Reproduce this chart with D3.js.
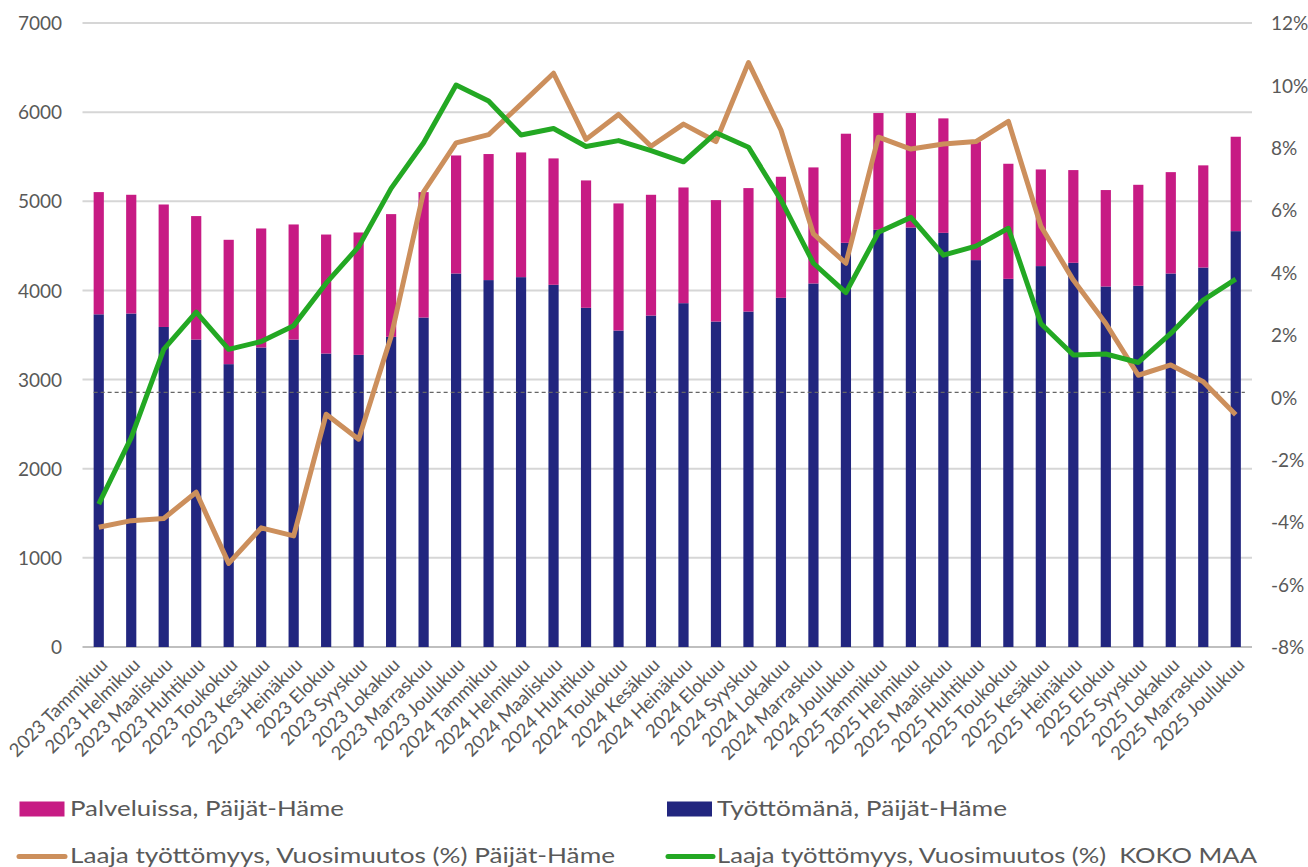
<!DOCTYPE html>
<html>
<head>
<meta charset="utf-8">
<script src="https://cdn.jsdelivr.net/npm/d3@7"></script>
<style>
  html, body { margin: 0; padding: 0; background: #fff; }
  svg { display: block; }
  text { font-family: Lato, "Open Sans", sans-serif; fill: #595959; }
</style>
</head>
<body>
<svg id="chart" width="1308" height="867"></svg>
<script>
const categories = [
  "2023 Tammikuu","2023 Helmikuu","2023 Maaliskuu","2023 Huhtikuu","2023 Toukokuu","2023 Kesäkuu",
  "2023 Heinäkuu","2023 Elokuu","2023 Syyskuu","2023 Lokakuu","2023 Marraskuu","2023 Joulukuu",
  "2024 Tammikuu","2024 Helmikuu","2024 Maaliskuu","2024 Huhtikuu","2024 Toukokuu","2024 Kesäkuu",
  "2024 Heinäkuu","2024 Elokuu","2024 Syyskuu","2024 Lokakuu","2024 Marraskuu","2024 Joulukuu",
  "2025 Tammikuu","2025 Helmikuu","2025 Maaliskuu","2025 Huhtikuu","2025 Toukokuu","2025 Kesäkuu",
  "2025 Heinäkuu","2025 Elokuu","2025 Syyskuu","2025 Lokakuu","2025 Marraskuu","2025 Joulukuu"
];
// Työttömänä, Päijät-Häme (bottom segment)
const tyottomana = [
  3732,3741,3590,3449,3173,3360,3449,3292,3277,3479,3696,4190,
  4116,4149,4063,3805,3550,3718,3857,3651,3763,3917,4078,4534,
  4680,4706,4646,4340,4130,4273,4310,4044,4052,4190,4257,4665
];
// Palveluissa, Päijät-Häme (top segment)
const palveluissa = [
  1371,1332,1374,1385,1395,1335,1291,1335,1373,1377,1407,1324,
  1414,1399,1418,1429,1426,1355,1298,1362,1385,1358,1302,1224,
  1310,1284,1284,1331,1291,1084,1040,1082,1133,1137,1146,1059
];
// Laaja työttömyys, Vuosimuutos (%) Päijät-Häme
const muutosPH = [
  -4.16,-3.95,-3.88,-3.04,-5.32,-4.18,-4.44,-0.54,-1.34,1.95,6.59,8.16,
  8.42,9.40,10.39,8.27,9.07,8.05,8.76,8.20,10.73,8.57,5.24,4.30,
  8.34,7.96,8.12,8.20,8.85,5.49,3.76,2.37,0.71,1.04,0.50,-0.56
];
// Laaja työttömyys, Vuosimuutos (%) KOKO MAA
const muutosKoko = [
  -3.42,-1.29,1.54,2.73,1.54,1.79,2.30,3.66,4.83,6.70,8.16,10.01,
  9.50,8.41,8.62,8.04,8.23,7.91,7.55,8.48,8.02,6.33,4.30,3.36,
  5.29,5.77,4.56,4.85,5.42,2.37,1.36,1.39,1.12,2.05,3.12,3.79
];
const referenceLine = [0.16];
const leftTicks = [0,1000,2000,3000,4000,5000,6000,7000];
const rightTicks = [-8,-6,-4,-2,0,2,4,6,8,10,12];
const seriesNames = [
  "Palveluissa, Päijät-Häme",
  "Työttömänä, Päijät-Häme",
  "Laaja työttömyys, Vuosimuutos (%) Päijät-Häme",
  "Laaja työttömyys, Vuosimuutos (%)  KOKO MAA"
];
const colors = { pal: "#C71B84", tyo: "#22267F", ph: "#CC8F5C", koko: "#23A823" };

const svg = d3.select("#chart");
const plotL = 82.5, plotR = 1252, plotT = 23, plotB = 647;

const x = d3.scaleBand().domain(categories).range([plotL, plotR])
  .paddingInner(0.686).paddingOuter(0.343);
const yL = d3.scaleLinear().domain([0, 7000]).range([plotB, plotT]);
const yR = d3.scaleLinear().domain([-8, 12]).range([plotB, plotT]);

// gridlines
svg.append("g").selectAll("line").data(leftTicks).join("line")
  .attr("x1", plotL).attr("x2", plotR)
  .attr("y1", d => yL(d)).attr("y2", d => yL(d))
  .attr("stroke", d => d === 0 ? "#bfbfbf" : "#d6d6d6").attr("stroke-width", 2);

// left axis
const axL = d3.axisLeft(yL).tickValues(leftTicks).tickSize(0).tickPadding(0).tickFormat(d3.format("d"));
const gL = svg.append("g").attr("transform", `translate(62,0)`).call(axL);
gL.select(".domain").remove();
gL.selectAll("text").style("font-size", "19px").attr("fill", "#595959").attr("dy", "0.35em");

// right axis
const axR = d3.axisRight(yR).tickValues(rightTicks).tickSize(0).tickPadding(0).tickFormat(d => d + "%");
const gR = svg.append("g").attr("transform", `translate(1271,0)`).call(axR);
gR.select(".domain").remove();
gR.selectAll("text").style("font-size", "19px").attr("fill", "#595959").attr("dy", "0.35em");

// stacked bars
const rows = categories.map((c, i) => ({ cat: c, tyo: tyottomana[i], pal: palveluissa[i] }));
const stack = d3.stack().keys(["tyo", "pal"])(rows);
svg.append("g").selectAll("g").data(stack).join("g")
  .attr("fill", d => colors[d.key])
  .selectAll("rect").data(d => d).join("rect")
  .attr("x", d => x(d.data.cat)).attr("width", x.bandwidth())
  .attr("y", d => yL(d[1])).attr("height", d => yL(d[0]) - yL(d[1]));

// dashed reference line
svg.append("line")
  .attr("x1", x(categories[0])).attr("x2", x(categories[categories.length - 1]) + x.bandwidth() + 4)
  .attr("y1", yR(referenceLine[0])).attr("y2", yR(referenceLine[0]))
  .attr("stroke", "#666").attr("stroke-width", 1.2).attr("stroke-dasharray", "4,3");

// lines
const line = d3.line().x((d, i) => x(categories[i]) + x.bandwidth() / 2).y(d => yR(d));
svg.append("path").datum(muutosPH).attr("d", line)
  .attr("fill", "none").attr("stroke", colors.ph).attr("stroke-width", 5).attr("stroke-linejoin", "round");
svg.append("path").datum(muutosKoko).attr("d", line)
  .attr("fill", "none").attr("stroke", colors.koko).attr("stroke-width", 5).attr("stroke-linejoin", "round");

// x labels
svg.append("g").selectAll("text").data(categories).join("text")
  .attr("transform", d => `translate(${x(d) + x.bandwidth() / 2 + 10},${666}) rotate(-45)`)
  .attr("text-anchor", "end").style("font-size", "18.5px").text(d => d);

// legend
const leg = svg.append("g");
leg.append("rect").attr("x", 19.5).attr("y", 801.5).attr("width", 45).attr("height", 15).attr("fill", colors.pal);
leg.append("rect").attr("x", 667).attr("y", 801.5).attr("width", 45).attr("height", 15).attr("fill", colors.tyo);
leg.append("line").attr("x1", 19).attr("x2", 65).attr("y1", 856.5).attr("y2", 856.5)
  .attr("stroke", colors.ph).attr("stroke-width", 5).attr("stroke-linecap", "round");
leg.append("line").attr("x1", 668).attr("x2", 713).attr("y1", 856.5).attr("y2", 856.5)
  .attr("stroke", colors.koko).attr("stroke-width", 5).attr("stroke-linecap", "round");
const legText = [
  { t: seriesNames[0], x: 70, y: 816, w: 274 },
  { t: seriesNames[1], x: 717, y: 816, w: 290 },
  { t: seriesNames[2], x: 70, y: 863, w: 545 },
  { t: seriesNames[3], x: 717, y: 863, w: 540 }
];
leg.selectAll("text").data(legText).join("text")
  .attr("x", d => d.x).attr("y", d => d.y).style("font-size", "22px")
  .attr("textLength", d => d.w).attr("lengthAdjust", "spacingAndGlyphs")
  .style("white-space", "pre").text(d => d.t);
</script>
</body>
</html>
